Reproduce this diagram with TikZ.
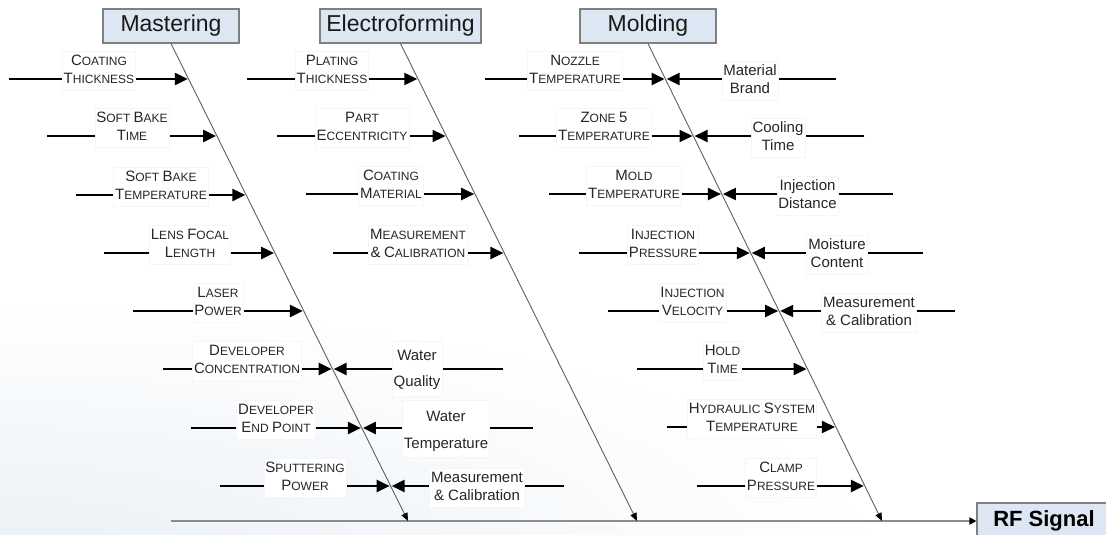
\documentclass[tikz,border=0pt]{standalone}
\usepackage{fontspec}
\setmainfont{Liberation Sans}
\usetikzlibrary{arrows.meta,calc}
\definecolor{hdrfill}{RGB}{221,230,243}
\definecolor{hdrdraw}{RGB}{128,128,128}
\definecolor{spinec}{RGB}{95,95,95}
\definecolor{basec}{RGB}{140,140,140}
\definecolor{bgtint}{RGB}{234,240,246}
\definecolor{boxline}{RGB}{246,246,246}
\newcommand\bg[1]{{\fontsize{15}{18}\selectfont #1}}
\newcommand\two[2]{\begin{tabular}[b]{@{}c@{}}#1\\#2\end{tabular}}
% left branch: name, spine function, y, start x, label x, line 1, line 2
\newcommand\lb[7]{%
  \coordinate (#1a) at (#4,#3);
  \coordinate (#1p) at ({#2(#3)},#3);
  \draw[branch] (#1a) -- (#1p);
  \node[labbox] (#1l) at (#5,#3+4.5) {\two{#6}{#7}};}
% right branch: name, y, end x, label x, baseline offset, line skip, line 1, line 2
\newcommand\rb[8]{%
  \coordinate (#1b) at (#3,#2);
  \draw[branch] (#1b) -- (#1p);
  \node[labbox, font=\fontsize{15}{#6}\selectfont] (#1r) at (#4,#2+#5) {\two{#7}{#8}};}
\begin{document}
\begin{tikzpicture}[x=1pt,y=-1pt,
  declare function={xm(\x)=171+(\x-43)/478*237; xe(\x)=400.5+(\x-43)/478*236.5; xo(\x)=648+(\x-43)/478*234;},
  hdr/.style={draw=hdrdraw, line width=1.1pt, fill=hdrfill, minimum height=34pt, inner sep=0pt, text=black!90},
  spine/.style={draw=spinec, line width=0.9pt, -{Triangle[length=8pt,width=6.5pt,black]}},
  branch/.style={draw=black, line width=2.2pt, -{Triangle[length=13pt,width=12pt]}, shorten >=1pt},
  labbox/.style={fill=white, draw=boxline, line width=0.6pt, inner sep=1.5pt, anchor=base, text=black!85, font=\fontsize{12}{18}\selectfont},
 ]
\useasboundingbox (0,0) rectangle (1106,535);
\begin{scope}
\clip (0,0) rectangle (1106,535);
\shade[inner color=bgtint, outer color=white] (0,560) ellipse (900 and 260);
\end{scope}

% headers
\node[hdr, minimum width=136pt, font=\fontsize{23}{26}\selectfont] (mast) at (171,26) {Mastering};
\node[hdr, minimum width=161pt, font=\fontsize{23}{26}\selectfont] (elec) at (400.5,26) {Electroforming};
\node[hdr, minimum width=136pt, font=\fontsize{23}{26}\selectfont] (mold) at (648,26) {Molding};

% result box and main line
\begin{scope}
\clip (0,0) rectangle (1106,535);
\node[draw=hdrdraw, line width=1.1pt, fill=hdrfill, minimum width=134pt, minimum height=36pt, inner sep=0pt, font=\bfseries\fontsize{22}{24}\selectfont] (rf) at (1044,521) {RF Signal};
\end{scope}
\coordinate (bs) at (171,521);
\draw[draw=basec, line width=1.6pt, -{Triangle[length=7pt,width=7pt,black]}] (bs) -- (rf.west);

% spines
\coordinate (mb) at (408,521);
\coordinate (eb) at (637,521);
\coordinate (ob) at (882,521);
\draw[spine] (mast.south) -- (mb);
\draw[spine] (elec.south) -- (eb);
\draw[spine] (mold.south) -- (ob);

% Mastering
\lb{m1}{xm}{79}{9}{99}{\bg{C}OATING}{\bg{T}HICKNESS}
\lb{m2}{xm}{136}{47}{132}{\bg{S}OFT \bg{B}AKE}{\bg{T}IME}
\lb{m3}{xm}{195}{76}{161}{\bg{S}OFT \bg{B}AKE}{\bg{T}EMPERATURE}
\lb{m4}{xm}{253}{104}{190}{\bg{L}ENS \bg{F}OCAL}{\bg{L}ENGTH}
\lb{m5}{xm}{311}{133}{218}{\bg{L}ASER}{\bg{P}OWER}
\lb{m6}{xm}{369}{163}{247}{\bg{D}EVELOPER}{\bg{C}ONCENTRATION}
\rb{m6}{369}{503}{417}{17.5}{26}{Water}{Quality}
\lb{m7}{xm}{428}{191}{276}{\bg{D}EVELOPER}{\bg{E}ND \bg{P}OINT}
\rb{m7}{428}{533}{446}{20}{27}{Water}{Temperature}
\lb{m8}{xm}{486}{220}{305}{\bg{S}PUTTERING}{\bg{P}OWER}
\rb{m8}{486}{564}{477}{14.4}{18}{Measurement}{\& Calibration}

% Electroforming
\lb{e1}{xe}{79}{247}{332}{\bg{P}LATING}{\bg{T}HICKNESS}
\lb{e2}{xe}{136}{277}{362}{\bg{P}ART}{\bg{E}CCENTRICITY}
\lb{e3}{xe}{194}{306}{391}{\bg{C}OATING}{\bg{M}ATERIAL}
\lb{e4}{xe}{253}{333}{418}{\bg{M}EASUREMENT}{\bg{\&} \bg{C}ALIBRATION}

% Molding
\lb{o1}{xo}{79}{485}{575}{\bg{N}OZZLE}{\bg{T}EMPERATURE}
\rb{o1}{79}{836}{750}{14.4}{18}{Material}{Brand}
\lb{o2}{xo}{136}{519}{604}{\bg{Z}ONE \bg{5}}{\bg{T}EMPERATURE}
\rb{o2}{136}{864}{778}{14.4}{18}{Cooling}{Time}
\lb{o3}{xo}{194}{549}{634}{\bg{M}OLD}{\bg{T}EMPERATURE}
\rb{o3}{194}{893}{807.5}{14.4}{18}{Injection}{Distance}
\lb{o4}{xo}{253}{579}{663}{\bg{I}NJECTION}{\bg{P}RESSURE}
\rb{o4}{253}{923}{837}{14.4}{18}{Moisture}{Content}
\lb{o5}{xo}{311}{608}{692.5}{\bg{I}NJECTION}{\bg{V}ELOCITY}
\rb{o5}{311}{955}{869}{14.4}{18}{Measurement}{\& Calibration}
\lb{o6}{xo}{369}{637}{722.5}{\bg{H}OLD}{\bg{T}IME}
\lb{o7}{xo}{427}{667}{752}{\bg{H}YDRAULIC \bg{S}YSTEM}{\bg{T}EMPERATURE}
\lb{o8}{xo}{486}{697}{781}{\bg{C}LAMP}{\bg{P}RESSURE}
\end{tikzpicture}
\end{document}
